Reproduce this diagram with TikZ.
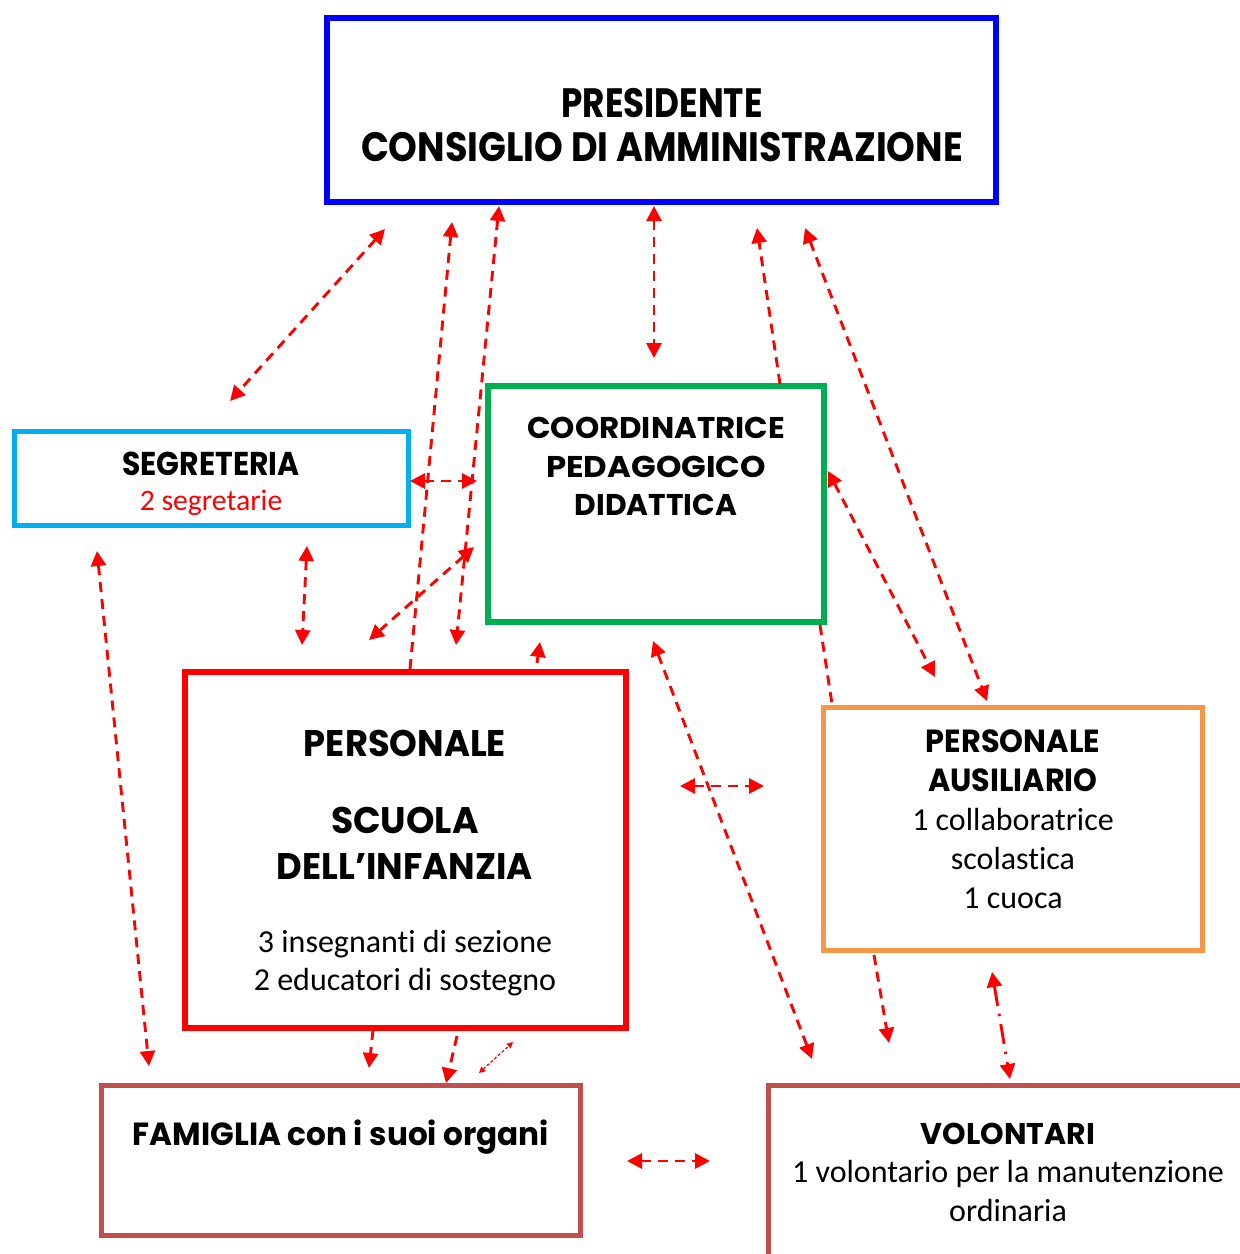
\documentclass[tikz,border=0pt]{standalone}
\usepackage{graphicx}
\usepackage{fontspec}
\setmainfont{Carlito}[Ligatures=NoCommon]
\newfontfamily\titlefont{Poppins}
\usetikzlibrary{arrows.meta}
\definecolor{cblue}{RGB}{0,0,255}
\definecolor{ccyan}{RGB}{0,176,240}
\definecolor{cgreen}{RGB}{0,176,80}
\definecolor{cred}{RGB}{255,0,0}
\definecolor{corange}{RGB}{247,150,70}
\definecolor{cbrown}{RGB}{192,80,77}
\newcommand{\sx}[2]{\scalebox{#1}[1]{#2}}
\begin{document}
\begin{tikzpicture}[x=1pt,y=-1pt,
  box/.style={draw, rectangle, inner sep=0pt, line width=6pt},
  ttl/.style={anchor=base, inner sep=0pt, font=\titlefont\bfseries\fontsize{#1}{#1}\selectfont},
  bdy/.style={anchor=base, inner sep=0pt, font=\fontsize{32}{32}\selectfont},
  arr/.style={draw=cred, line width=2.9pt, dash pattern=on 10pt off 7pt,
    arrows={Triangle[length=15pt,width=15pt]-Triangle[length=15pt,width=15pt]}},
  arrone/.style={draw=cred, line width=2.9pt, dash pattern=on 10pt off 7pt,
    arrows={-Triangle[length=15pt,width=15pt]}},
  plain/.style={draw=cred, line width=2.9pt, dash pattern=on 10pt off 7pt},
  thin/.style={draw=cred, line width=1.2pt, dash pattern=on 3pt off 2pt,
    arrows={Triangle[length=6pt,width=6pt]-Triangle[length=6pt,width=6pt]}},
  dashdot/.style={draw=cred, line width=2.9pt, dash pattern=on 20pt off 8pt on 2.5pt off 8pt,
    arrows={Triangle[length=15pt,width=15pt]-Triangle[length=15pt,width=15pt]}}
]
\clip (0,0) rectangle (1240,1254);
\fill[white] (0,0) rectangle (1240,1254);

% boxes
\node[box, draw=cblue, minimum width=669pt, minimum height=184pt] (pres) at (661.5,110) {};
\node[box, draw=ccyan, line width=5pt, minimum width=394pt, minimum height=94pt] (seg) at (211,478) {};
\node[box, draw=cgreen, minimum width=336pt, minimum height=236pt] (coord) at (656,504) {};
\node[box, draw=cred, minimum width=441pt, minimum height=356pt] (scuola) at (405.5,850) {};
\node[box, draw=corange, line width=5pt, minimum width=379pt, minimum height=243pt] (ausil) at (1012.5,828.5) {};
\node[box, draw=cbrown, line width=5pt, minimum width=479pt, minimum height=150pt] (fam) at (340.5,1160) {};
\node[box, draw=cbrown, line width=5pt, minimum width=482pt, minimum height=185pt] (vol) at (1009,1177.5) {};

% texts
\node[ttl=41] (presA) at (662,117) {\sx{0.835}{PRESIDENTE}};
\node[ttl=41] (presB) at (662,161) {\sx{0.892}{CONSIGLIO DI AMMINISTRAZIONE}};
\node[ttl=33] (segA) at (211,475) {\sx{0.907}{SEGRETERIA}};
\node[bdy, text=cred, font=\fontsize{29.7}{30}\selectfont] (segB) at (211,510) {2 segretarie};
\node[ttl=30] (coordA) at (656,438) {\sx{1.03}{COORDINATRICE}};
\node[ttl=30] (coordB) at (656,477) {\sx{1.08}{PEDAGOGICO}};
\node[ttl=30] (coordC) at (656,515) {\sx{0.99}{DIDATTICA}};
\node[ttl=37] (scA) at (405,756) {\sx{0.954}{PERSONALE}};
\node[ttl=37] (scB) at (405,833) {\sx{0.977}{SCUOLA}};
\node[ttl=37] (scC) at (405,879) {\sx{0.955}{DELL’INFANZIA}};
\node[bdy] (scD) at (405,952) {3 insegnanti di sezione};
\node[bdy] (scE) at (405,990) {2 educatori di sostegno};
\node[ttl=32] (auA) at (1013,752) {\sx{0.95}{PERSONALE}};
\node[ttl=32] (auB) at (1013,791) {\sx{0.946}{AUSILIARIO}};
\node[bdy] (auC) at (1013,830) {1 collaboratrice};
\node[bdy] (auD) at (1013,869) {scolastica};
\node[bdy] (auE) at (1013,908) {1 cuoca};
\node[ttl=32] (famA) at (341,1145) {\sx{0.972}{FAMIGLIA con i suoi organi}};
\node[ttl=30] (volA) at (1008,1144) {\sx{1.0}{VOLONTARI}};
\node[bdy] (volB) at (1008,1182) {1 volontario per la manutenzione};
\node[bdy] (volC) at (1008,1221) {ordinaria};

% connector end points
\coordinate (a1s) at (385,229);  \coordinate (a1e) at (230,401);
\coordinate (a2s) at (410,669);  \coordinate (a2e) at (452,222);
\coordinate (a3s) at (499,206);  \coordinate (a3e) at (456,645);
\coordinate (a4s) at (654,206);  \coordinate (a4e) at (654,358);
\coordinate (a5s) at (780,384);  \coordinate (a5e) at (757,228);
\coordinate (a6s) at (805,228);  \coordinate (a6e) at (987,701);
\coordinate (a7s) at (828,471);  \coordinate (a7e) at (935,677);
\coordinate (a8s) at (820,625);  \coordinate (a8e) at (832,704);
\coordinate (a9s) at (410,481);  \coordinate (a9e) at (477,481);
\coordinate (a10s) at (474,547); \coordinate (a10e) at (369,640);
\coordinate (a11s) at (307,546); \coordinate (a11e) at (302,645);
\coordinate (a12s) at (97,551);  \coordinate (a12e) at (149,1066);
\coordinate (a13s) at (537,663); \coordinate (a13e) at (540,642);
\coordinate (a14s) at (653,641); \coordinate (a14e) at (812,1059);
\coordinate (a15s) at (680,786); \coordinate (a15e) at (764,786);
\coordinate (a16s) at (373,1030); \coordinate (a16e) at (369,1068);
\coordinate (a17s) at (457,1036); \coordinate (a17e) at (446,1083);
\coordinate (a18s) at (479,1073); \coordinate (a18e) at (513,1042);
\coordinate (a19s) at (874,955); \coordinate (a19e) at (889,1043);
\coordinate (a20s) at (992,972); \coordinate (a20e) at (1010,1079);
\coordinate (a21s) at (627,1161); \coordinate (a21e) at (710,1161);

% connectors
\draw[arr] (a1s) -- (a1e);
\draw[arrone] (a2s) -- (a2e);
\draw[arr] (a3s) -- (a3e);
\draw[arr] (a4s) -- (a4e);
\draw[arrone] (a5s) -- (a5e);
\draw[arr] (a6s) -- (a6e);
\draw[arr] (a7s) -- (a7e);
\draw[plain] (a8s) -- (a8e);
\draw[arr] (a9s) -- (a9e);
\draw[arr] (a10s) -- (a10e);
\draw[arr] (a11s) -- (a11e);
\draw[arr] (a12s) -- (a12e);
\draw[arrone] (a13s) -- (a13e);
\draw[arr] (a14s) -- (a14e);
\draw[arr] (a15s) -- (a15e);
\draw[arrone] (a16s) -- (a16e);
\draw[arrone] (a17s) -- (a17e);
\draw[thin] (a18s) -- (a18e);
\draw[arrone] (a19s) -- (a19e);
\draw[dashdot] (a20s) -- (a20e);
\draw[arr] (a21s) -- (a21e);
\end{tikzpicture}
\end{document}
